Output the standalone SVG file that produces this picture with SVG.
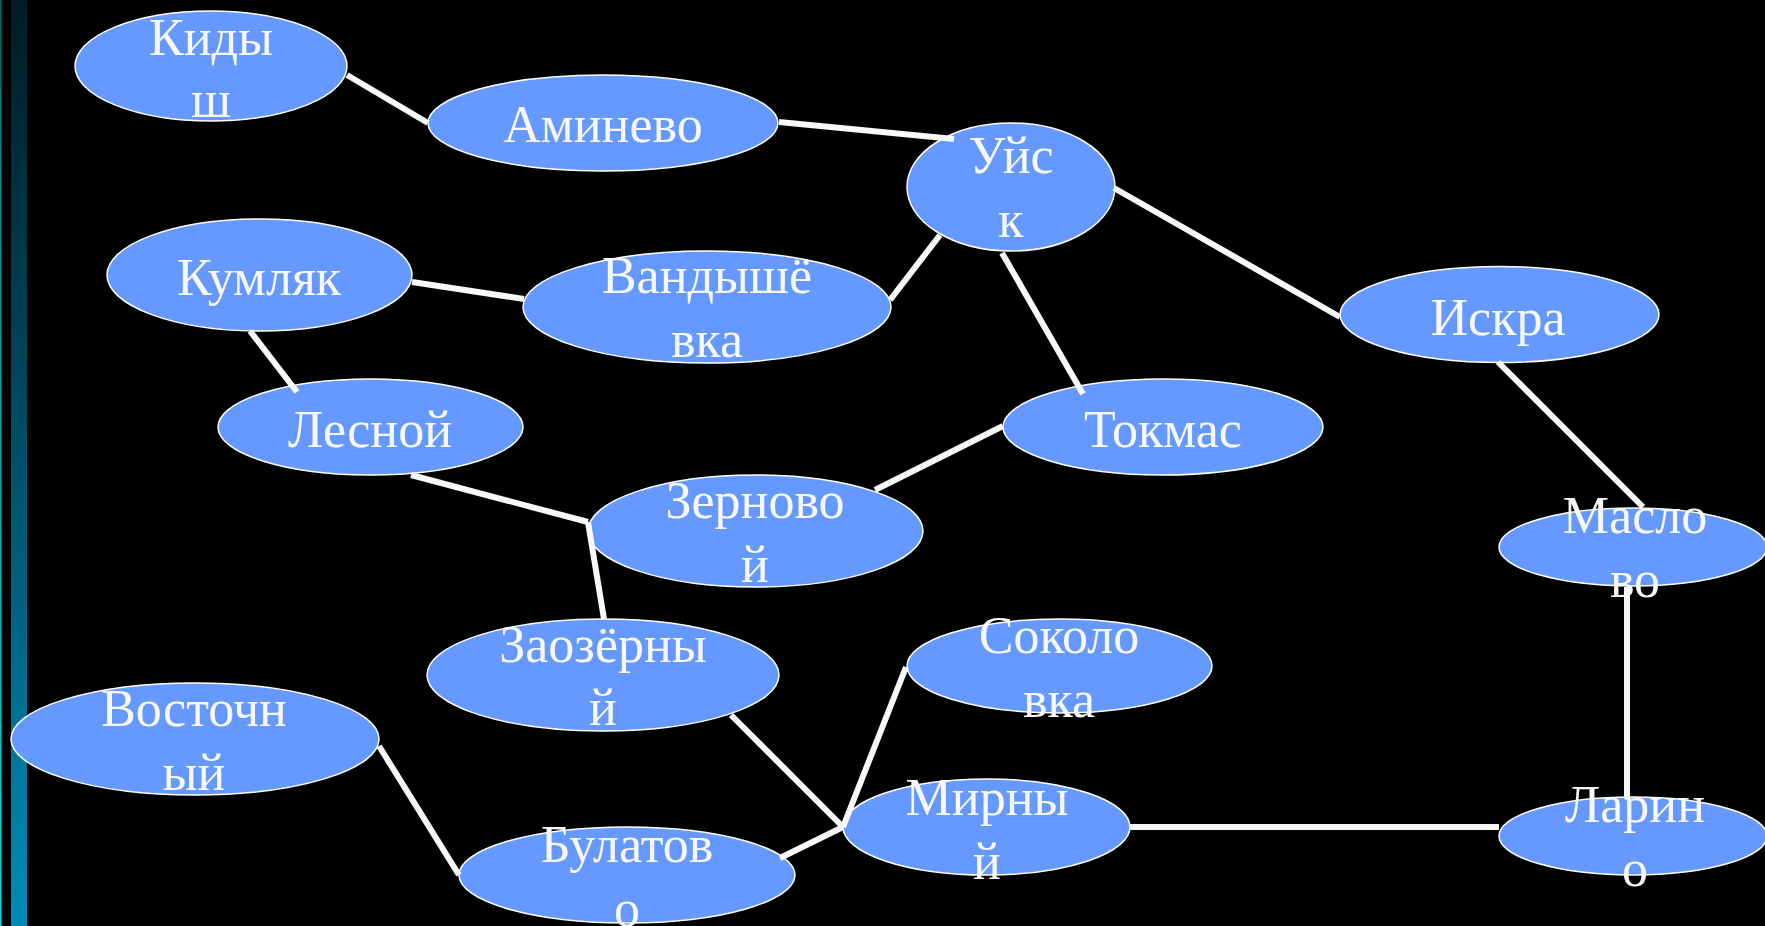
<svg xmlns="http://www.w3.org/2000/svg" width="1765" height="926" viewBox="0 0 1765 926">
<style>
.n ellipse{fill:#6699ff;stroke:#ffffff;stroke-width:1.5}
.n text{font-family:"Liberation Serif","Times New Roman",serif;font-size:52px;fill:#f8f8f8;text-anchor:middle}
#edges line{stroke:#f8f8f8;stroke-width:6;stroke-linecap:butt}
</style>
<defs>
<linearGradient id="bar" x1="0" y1="0" x2="0" y2="1">
<stop offset="0" stop-color="#001c24"/>
<stop offset="0.5" stop-color="#005068"/>
<stop offset="1" stop-color="#008cb8"/>
</linearGradient>
<linearGradient id="thin" x1="0" y1="0" x2="0" y2="1">
<stop offset="0" stop-color="#006a70"/>
<stop offset="1" stop-color="#00d8e0"/>
</linearGradient>
</defs>
<rect x="0" y="0" width="1765" height="926" fill="#000000"/>
<rect x="0" y="0" width="1.5" height="926" fill="url(#thin)"/>
<rect x="11" y="0" width="16" height="926" fill="url(#bar)"/>

<g id="n-kidysh" class="n"><ellipse cx="211" cy="66" rx="136" ry="55"/><text x="211" y="55">Киды</text><text x="211" y="117">ш</text></g>
<g id="n-aminevo" class="n"><ellipse cx="603" cy="123" rx="175" ry="48"/><text x="603" y="142">Аминево</text></g>
<g id="n-uysk" class="n"><ellipse cx="1011" cy="187" rx="104" ry="64"/><text x="1011" y="173">Уйс</text><text x="1011" y="237">к</text></g>
<g id="n-kumlyak" class="n"><ellipse cx="259.5" cy="275" rx="152.5" ry="56"/><text x="259" y="295">Кумляк</text></g>
<g id="n-vandyshevka" class="n"><ellipse cx="707" cy="307" rx="184" ry="56"/><text x="707" y="293">Вандышё</text><text x="707" y="357">вка</text></g>
<g id="n-iskra" class="n"><ellipse cx="1499.5" cy="314.5" rx="159.5" ry="48"/><text x="1498" y="335">Искра</text></g>
<g id="n-lesnoy" class="n"><ellipse cx="370.5" cy="427" rx="152.5" ry="48"/><text x="370" y="447">Лесной</text></g>
<g id="n-tokmas" class="n"><ellipse cx="1163" cy="427" rx="160" ry="48"/><text x="1163" y="447">Токмас</text></g>
<g id="n-zernovoy" class="n"><ellipse cx="755.5" cy="531" rx="167.5" ry="56"/><text x="755" y="518">Зерново</text><text x="755" y="582">й</text></g>
<g id="n-maslovo" class="n"><ellipse cx="1633" cy="547" rx="134" ry="39"/><text x="1635" y="533">Масло</text><text x="1635" y="597">во</text></g>
<g id="n-zaozerny" class="n"><ellipse cx="603" cy="675" rx="176" ry="56"/><text x="603" y="662">Заозёрны</text><text x="603" y="725">й</text></g>
<g id="n-sokolovka" class="n"><ellipse cx="1059.5" cy="666" rx="152.5" ry="47"/><text x="1059" y="653">Соколо</text><text x="1059" y="717">вка</text></g>
<g id="n-vostochny" class="n"><ellipse cx="195" cy="739" rx="184" ry="56"/><text x="194" y="726">Восточн</text><text x="194" y="790">ый</text></g>
<g id="n-mirny" class="n"><ellipse cx="986.5" cy="827" rx="143.5" ry="48"/><text x="987" y="815">Мирны</text><text x="987" y="879">й</text></g>
<g id="n-larino" class="n"><ellipse cx="1633" cy="836" rx="134" ry="39"/><text x="1635" y="822">Ларин</text><text x="1635" y="886">о</text></g>
<g id="n-bulatovo" class="n"><ellipse cx="627" cy="875" rx="168" ry="48"/><text x="627" y="862">Булатов</text><text x="627" y="926">о</text></g>

<g id="edges">
<line x1="347" y1="75" x2="428" y2="123"/>
<line x1="779" y1="122" x2="954" y2="139"/>
<line x1="1114" y1="188" x2="1340" y2="317"/>
<line x1="940" y1="235" x2="890" y2="300"/>
<line x1="1002" y1="253" x2="1083" y2="394"/>
<line x1="412" y1="282" x2="524" y2="299"/>
<line x1="250" y1="331" x2="297" y2="392"/>
<line x1="411" y1="475" x2="588" y2="522"/>
<line x1="588" y1="522" x2="604" y2="619"/>
<line x1="875" y1="490" x2="1003" y2="426"/>
<line x1="1498" y1="362" x2="1643" y2="507"/>
<line x1="1627" y1="587" x2="1627" y2="797"/>
<line x1="1130" y1="827" x2="1499" y2="827"/>
<line x1="731" y1="715" x2="843" y2="827"/>
<line x1="906" y1="667" x2="843" y2="827"/>
<line x1="780" y1="858" x2="843" y2="827"/>
<line x1="379" y1="746" x2="459" y2="875"/>
</g>
</svg>
